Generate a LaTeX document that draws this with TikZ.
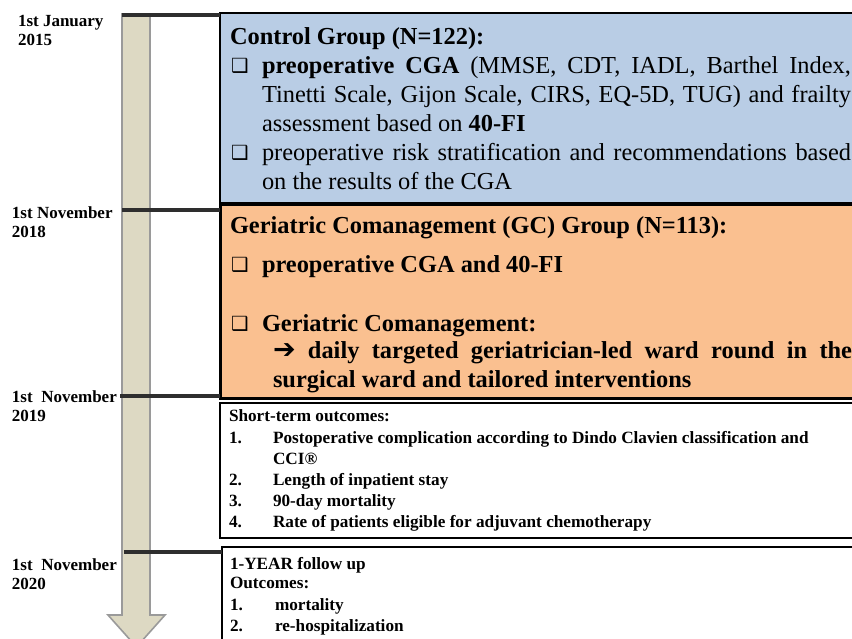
\documentclass[tikz,border=0pt]{standalone}
\usepackage{fontspec}
\setmainfont{Liberation Serif}
\newfontfamily\djv{DejaVu Sans}
\definecolor{bluefill}{HTML}{B9CDE5}
\definecolor{orangefill}{HTML}{FAC090}
\definecolor{beige}{HTML}{DDD9C3}
\definecolor{arrowgray}{HTML}{9A9A9A}
\definecolor{tickcol}{HTML}{2E2E2E}
\newcommand\fs[1]{\fontsize{#1}{#1}\selectfont}
\newcommand\cbx{{\djv\bfseries\fs{19.5}❑}}
\newcommand\arr{{\djv\bfseries\fs{27}➔}}
\tikzset{
  txt/.style={anchor=base west, inner sep=0pt, outer sep=0pt},
  date/.style={txt, font=\bfseries\fs{17}},
  big/.style={txt, font=\fs{24.4}},
  bigb/.style={txt, font=\bfseries\fs{24.4}},
  small/.style={txt, font=\bfseries\fs{17.2}},
  chk/.style={txt},
  box/.style={draw=black, anchor=north west, inner sep=0pt, outer sep=0pt, minimum width=700pt},
  tick/.style={draw=tickcol, line width=4pt}
}
\begin{document}
\begin{tikzpicture}[x=1pt,y=-1pt]
\useasboundingbox (0,0) rectangle (852,638);
\clip (0,0) rectangle (852,638);
% timeline arrow
\path[fill=beige, draw=arrowgray, line width=1.6pt]
  (122,14) -- (150,14) -- (150,615) -- (165,615) -- (136.5,647) -- (108,615) -- (122,615) -- cycle;
% boxes
\node[box, fill=bluefill, line width=2pt, minimum height=190pt] (b1) at (220,13) {};
\node[box, fill=orangefill, line width=3pt, minimum height=194pt] (b2) at (220,204.5) {};
\node[box, fill=white, line width=1.5pt, minimum height=135pt] (b3) at (220,403) {};
\node[box, fill=white, line width=1.5pt, minimum height=120pt] (b4) at (222,547) {};
% ticks
\coordinate (t1) at (122,15);
\coordinate (t2) at (122,209.5);
\coordinate (t3) at (120,396);
\coordinate (t4) at (124,552);
\draw[tick] (t1) -- (b1.west |- t1);
\draw[tick] (t2) -- (b2.west |- t2);
\draw[tick] (t3) -- (b2.west |- t3);
\draw[tick] (t4) -- (b4.west |- t4);
% dates
\node[date] (d1a) at (18,26) {1st January};
\node[date] (d1b) at (18,45) {2015};
\node[date] (d2a) at (12,218) {1st November};
\node[date] (d2b) at (12,237) {2018};
\node[date] (d3a) at (12,402) {1st~~November};
\node[date] (d3b) at (12,421) {2019};
\node[date] (d4a) at (12,570) {1st~~November};
\node[date] (d4b) at (12,589) {2020};
% box 1 text
\node[bigb] (c0) at (230,44) {Control Group (N=122):};
\node[chk] (c1k) at (231,72) {\cbx};
\node[big] (c1) at (262,73) {\makebox[589pt][s]{\textbf{preoperative CGA} (MMSE, CDT, IADL, Barthel Index,}};
\node[big] (c2) at (262,102) {\makebox[589pt][s]{Tinetti Scale, Gijon Scale, CIRS, EQ-5D, TUG) and frailty}};
\node[big] (c3) at (262,131) {assessment based on \textbf{40-FI}};
\node[chk] (c4k) at (231,159) {\cbx};
\node[big] (c4) at (262,160) {\makebox[589pt][s]{preoperative risk stratification and recommendations based}};
\node[big] (c5) at (262,189) {on the results of the CGA};
% box 2 text
\node[bigb] (g0) at (230,233) {Geriatric Comanagement (GC) Group (N=113):};
\node[chk] (g1k) at (231,271) {\cbx};
\node[bigb] (g1) at (262,272) {preoperative CGA and 40-FI};
\node[chk] (g2k) at (231,330) {\cbx};
\node[bigb] (g2) at (262,331) {Geriatric Comanagement:};
\node[bigb] (g3) at (273,358) {\makebox[579pt][s]{\arr{} daily targeted geriatrician-led ward round in the}};
\node[bigb] (g4) at (273,387) {surgical ward and tailored interventions};
% box 3 text
\node[small] (s0) at (229,421) {Short-term outcomes:};
\node[small] (s1n) at (229,443) {1.};
\node[small] (s1) at (273,443) {Postoperative complication according to Dindo Clavien classification and};
\node[small] (s1b) at (273,464) {CCI®};
\node[small] (s2n) at (229,485) {2.};
\node[small] (s2) at (273,485) {Length of inpatient stay};
\node[small] (s3n) at (229,506) {3.};
\node[small] (s3) at (273,506) {90-day mortality};
\node[small] (s4n) at (229,527) {4.};
\node[small] (s4) at (273,527) {Rate of patients eligible for adjuvant chemotherapy};
% box 4 text
\node[small] (f0) at (230,569) {1-YEAR follow up};
\node[small] (f1) at (230,588) {Outcomes:};
\node[small] (f2n) at (230,610) {1.};
\node[small] (f2) at (275,610) {mortality};
\node[small] (f3n) at (230,631) {2.};
\node[small] (f3) at (275,631) {re-hospitalization};
\end{tikzpicture}
\end{document}
